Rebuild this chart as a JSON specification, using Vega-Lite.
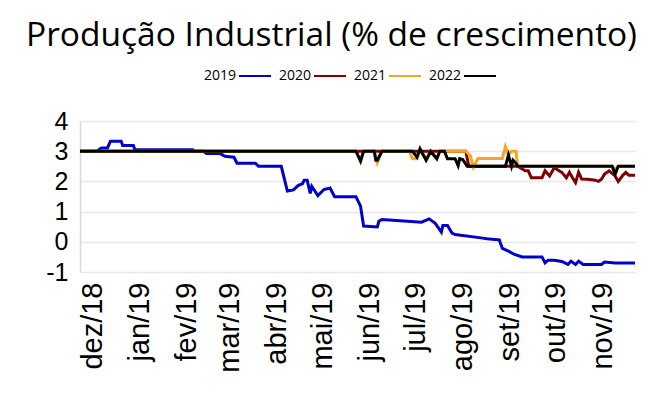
{
  "$schema": "https://vega.github.io/schema/vega-lite/v6.json",
  "width": 555,
  "height": 151,
  "autosize": "none",
  "padding": {"left": 80, "top": 121, "right": 34, "bottom": 123},
  "background": "white",
  "title": {"text": "Produção Industrial (% de crescimento)", "font": "Open Sans", "fontSize": 33.5, "fontWeight": "normal", "color": "#000000", "anchor": "middle", "dx": -26, "offset": 6},
  "data": {"values": [
    {"s":"2019","d":"2018-11-23","v":3.00},
    {"s":"2019","d":"2018-12-04","v":3.00},
    {"s":"2019","d":"2018-12-07","v":3.11},
    {"s":"2019","d":"2018-12-11","v":3.11},
    {"s":"2019","d":"2018-12-13","v":3.33},
    {"s":"2019","d":"2018-12-20","v":3.33},
    {"s":"2019","d":"2018-12-21","v":3.19},
    {"s":"2019","d":"2018-12-28","v":3.19},
    {"s":"2019","d":"2018-12-29","v":3.05},
    {"s":"2019","d":"2019-02-05","v":3.05},
    {"s":"2019","d":"2019-02-06","v":3.00},
    {"s":"2019","d":"2019-02-12","v":3.00},
    {"s":"2019","d":"2019-02-14","v":2.92},
    {"s":"2019","d":"2019-02-23","v":2.92},
    {"s":"2019","d":"2019-02-26","v":2.83},
    {"s":"2019","d":"2019-03-04","v":2.80},
    {"s":"2019","d":"2019-03-06","v":2.60},
    {"s":"2019","d":"2019-03-18","v":2.60},
    {"s":"2019","d":"2019-03-20","v":2.50},
    {"s":"2019","d":"2019-04-04","v":2.50},
    {"s":"2019","d":"2019-04-08","v":1.68},
    {"s":"2019","d":"2019-04-12","v":1.72},
    {"s":"2019","d":"2019-04-15","v":1.86},
    {"s":"2019","d":"2019-04-18","v":1.93},
    {"s":"2019","d":"2019-04-19","v":2.04},
    {"s":"2019","d":"2019-04-21","v":2.04},
    {"s":"2019","d":"2019-04-23","v":1.60},
    {"s":"2019","d":"2019-04-24","v":1.84},
    {"s":"2019","d":"2019-04-28","v":1.53},
    {"s":"2019","d":"2019-05-02","v":1.73},
    {"s":"2019","d":"2019-05-06","v":1.78},
    {"s":"2019","d":"2019-05-09","v":1.49},
    {"s":"2019","d":"2019-05-23","v":1.49},
    {"s":"2019","d":"2019-05-26","v":1.18},
    {"s":"2019","d":"2019-05-28","v":0.52},
    {"s":"2019","d":"2019-06-06","v":0.49},
    {"s":"2019","d":"2019-06-07","v":0.68},
    {"s":"2019","d":"2019-06-09","v":0.74},
    {"s":"2019","d":"2019-07-05","v":0.65},
    {"s":"2019","d":"2019-07-10","v":0.76},
    {"s":"2019","d":"2019-07-14","v":0.61},
    {"s":"2019","d":"2019-07-18","v":0.32},
    {"s":"2019","d":"2019-07-19","v":0.54},
    {"s":"2019","d":"2019-07-22","v":0.54},
    {"s":"2019","d":"2019-07-25","v":0.29},
    {"s":"2019","d":"2019-07-27","v":0.24},
    {"s":"2019","d":"2019-08-13","v":0.13},
    {"s":"2019","d":"2019-08-17","v":0.10},
    {"s":"2019","d":"2019-08-22","v":0.08},
    {"s":"2019","d":"2019-08-25","v":0.06},
    {"s":"2019","d":"2019-08-27","v":-0.22},
    {"s":"2019","d":"2019-08-31","v":-0.31},
    {"s":"2019","d":"2019-09-04","v":-0.42},
    {"s":"2019","d":"2019-09-09","v":-0.50},
    {"s":"2019","d":"2019-09-22","v":-0.50},
    {"s":"2019","d":"2019-09-24","v":-0.70},
    {"s":"2019","d":"2019-09-26","v":-0.61},
    {"s":"2019","d":"2019-09-30","v":-0.61},
    {"s":"2019","d":"2019-10-05","v":-0.65},
    {"s":"2019","d":"2019-10-09","v":-0.75},
    {"s":"2019","d":"2019-10-11","v":-0.64},
    {"s":"2019","d":"2019-10-14","v":-0.75},
    {"s":"2019","d":"2019-10-16","v":-0.64},
    {"s":"2019","d":"2019-10-19","v":-0.75},
    {"s":"2019","d":"2019-10-31","v":-0.75},
    {"s":"2019","d":"2019-11-02","v":-0.67},
    {"s":"2019","d":"2019-11-09","v":-0.70},
    {"s":"2019","d":"2019-11-22","v":-0.70},

    {"s":"2020","d":"2018-11-23","v":3.00},
    {"s":"2020","d":"2019-08-03","v":3.00},
    {"s":"2020","d":"2019-08-05","v":2.50},
    {"s":"2020","d":"2019-09-06","v":2.50},
    {"s":"2020","d":"2019-09-11","v":2.35},
    {"s":"2020","d":"2019-09-13","v":2.35},
    {"s":"2020","d":"2019-09-15","v":2.12},
    {"s":"2020","d":"2019-09-22","v":2.12},
    {"s":"2020","d":"2019-09-24","v":2.35},
    {"s":"2020","d":"2019-09-27","v":2.18},
    {"s":"2020","d":"2019-09-30","v":2.45},
    {"s":"2020","d":"2019-10-05","v":2.30},
    {"s":"2020","d":"2019-10-08","v":2.12},
    {"s":"2020","d":"2019-10-10","v":2.30},
    {"s":"2020","d":"2019-10-12","v":2.12},
    {"s":"2020","d":"2019-10-14","v":1.96},
    {"s":"2020","d":"2019-10-16","v":2.30},
    {"s":"2020","d":"2019-10-18","v":2.08},
    {"s":"2020","d":"2019-10-22","v":2.07},
    {"s":"2020","d":"2019-10-27","v":2.04},
    {"s":"2020","d":"2019-10-29","v":2.00},
    {"s":"2020","d":"2019-10-31","v":2.07},
    {"s":"2020","d":"2019-11-02","v":2.24},
    {"s":"2020","d":"2019-11-05","v":2.35},
    {"s":"2020","d":"2019-11-09","v":2.18},
    {"s":"2020","d":"2019-11-11","v":2.00},
    {"s":"2020","d":"2019-11-14","v":2.20},
    {"s":"2020","d":"2019-11-16","v":2.30},
    {"s":"2020","d":"2019-11-18","v":2.20},
    {"s":"2020","d":"2019-11-22","v":2.20},

    {"s":"2021","d":"2018-11-23","v":3.00},
    {"s":"2021","d":"2019-05-23","v":3.00},
    {"s":"2021","d":"2019-05-26","v":2.65},
    {"s":"2021","d":"2019-05-28","v":3.00},
    {"s":"2021","d":"2019-06-04","v":3.00},
    {"s":"2021","d":"2019-06-06","v":2.62},
    {"s":"2021","d":"2019-06-09","v":3.00},
    {"s":"2021","d":"2019-06-27","v":3.00},
    {"s":"2021","d":"2019-06-29","v":2.75},
    {"s":"2021","d":"2019-07-02","v":2.75},
    {"s":"2021","d":"2019-07-04","v":3.05},
    {"s":"2021","d":"2019-07-08","v":2.72},
    {"s":"2021","d":"2019-07-11","v":3.00},
    {"s":"2021","d":"2019-07-15","v":2.75},
    {"s":"2021","d":"2019-07-17","v":3.00},
    {"s":"2021","d":"2019-08-03","v":3.00},
    {"s":"2021","d":"2019-08-06","v":2.85},
    {"s":"2021","d":"2019-08-08","v":2.47},
    {"s":"2021","d":"2019-08-11","v":2.76},
    {"s":"2021","d":"2019-08-27","v":2.76},
    {"s":"2021","d":"2019-08-29","v":3.15},
    {"s":"2021","d":"2019-08-31","v":2.87},
    {"s":"2021","d":"2019-09-02","v":3.00},
    {"s":"2021","d":"2019-09-05","v":3.00},
    {"s":"2021","d":"2019-09-06","v":2.50},
    {"s":"2021","d":"2019-11-07","v":2.50},
    {"s":"2021","d":"2019-11-09","v":2.40},
    {"s":"2021","d":"2019-11-11","v":2.50},
    {"s":"2021","d":"2019-11-22","v":2.50},

    {"s":"2022","d":"2018-11-23","v":3.00},
    {"s":"2022","d":"2019-05-23","v":3.00},
    {"s":"2022","d":"2019-05-26","v":2.68},
    {"s":"2022","d":"2019-05-28","v":3.00},
    {"s":"2022","d":"2019-06-04","v":3.00},
    {"s":"2022","d":"2019-06-05","v":2.70},
    {"s":"2022","d":"2019-06-06","v":2.70},
    {"s":"2022","d":"2019-06-09","v":3.00},
    {"s":"2022","d":"2019-06-29","v":3.00},
    {"s":"2022","d":"2019-07-02","v":2.80},
    {"s":"2022","d":"2019-07-04","v":3.08},
    {"s":"2022","d":"2019-07-08","v":2.70},
    {"s":"2022","d":"2019-07-11","v":3.00},
    {"s":"2022","d":"2019-07-15","v":2.75},
    {"s":"2022","d":"2019-07-17","v":3.00},
    {"s":"2022","d":"2019-07-20","v":3.00},
    {"s":"2022","d":"2019-07-22","v":2.75},
    {"s":"2022","d":"2019-07-27","v":2.75},
    {"s":"2022","d":"2019-07-29","v":2.52},
    {"s":"2022","d":"2019-07-30","v":2.75},
    {"s":"2022","d":"2019-08-01","v":2.72},
    {"s":"2022","d":"2019-08-04","v":2.50},
    {"s":"2022","d":"2019-08-29","v":2.50},
    {"s":"2022","d":"2019-08-31","v":2.87},
    {"s":"2022","d":"2019-09-02","v":2.50},
    {"s":"2022","d":"2019-09-03","v":2.70},
    {"s":"2022","d":"2019-09-05","v":2.60},
    {"s":"2022","d":"2019-09-06","v":2.50},
    {"s":"2022","d":"2019-11-07","v":2.50},
    {"s":"2022","d":"2019-11-09","v":2.24},
    {"s":"2022","d":"2019-11-11","v":2.50},
    {"s":"2022","d":"2019-11-22","v":2.50}
  ]},
  "mark": {"type": "line", "strokeWidth": 3, "interpolate": "linear"},
  "encoding": {
    "x": {
      "field": "d", "type": "temporal",
      "scale": {"type": "utc", "domain": [{"year": 2018, "month": 11, "date": 23, "utc": true}, {"year": 2019, "month": 11, "date": 22, "utc": true}]},
      "axis": {
        "title": null, "grid": false, "ticks": false, "domain": false,
        "tickCount": {"interval": "month", "step": 1},
        "labelExpr": "['jan','fev','mar','abr','mai','jun','jul','ago','set','out','nov','dez'][utcmonth(datum.value)] + '/' + utcFormat(datum.value, '%y')",
        "labelAngle": -90, "labelFont": "Liberation Sans", "labelFontSize": 29, "labelColor": "#000000",
        "labelPadding": 10, "labelOverlap": false, "labelFlush": false
      }
    },
    "y": {
      "field": "v", "type": "quantitative",
      "scale": {"domain": [-1, 4], "nice": false, "zero": false},
      "axis": {
        "title": null, "values": [-1, 0, 1, 2, 3, 4], "ticks": false,
        "domain": true, "domainColor": "#d9d9d9", "domainWidth": 1.5,
        "gridColor": "#e8e8e8", "gridWidth": 1.5,
        "labelExpr": "datum.value < 0 ? '-' + abs(datum.value) : '' + datum.value",
        "labelFont": "Liberation Sans", "labelFontSize": 25, "labelColor": "#000000", "labelPadding": 12
      }
    },
    "color": {
      "field": "s", "type": "nominal",
      "scale": {"domain": ["2019", "2020", "2021", "2022"], "range": ["#0000CC", "#7F0000", "#F4A622", "#000000"]},
      "legend": {
        "orient": "none", "legendX": 158, "legendY": -62, "direction": "horizontal", "title": null,
        "symbolType": "stroke", "symbolSize": 1024, "symbolStrokeWidth": 2,
        "labelFont": "Open Sans", "labelFontSize": 14, "labelColor": "#000000",
        "labelAlign": "right", "labelOffset": -36, "columnPadding": 3
      }
    }
  },
  "config": {"view": {"stroke": null}}
}
